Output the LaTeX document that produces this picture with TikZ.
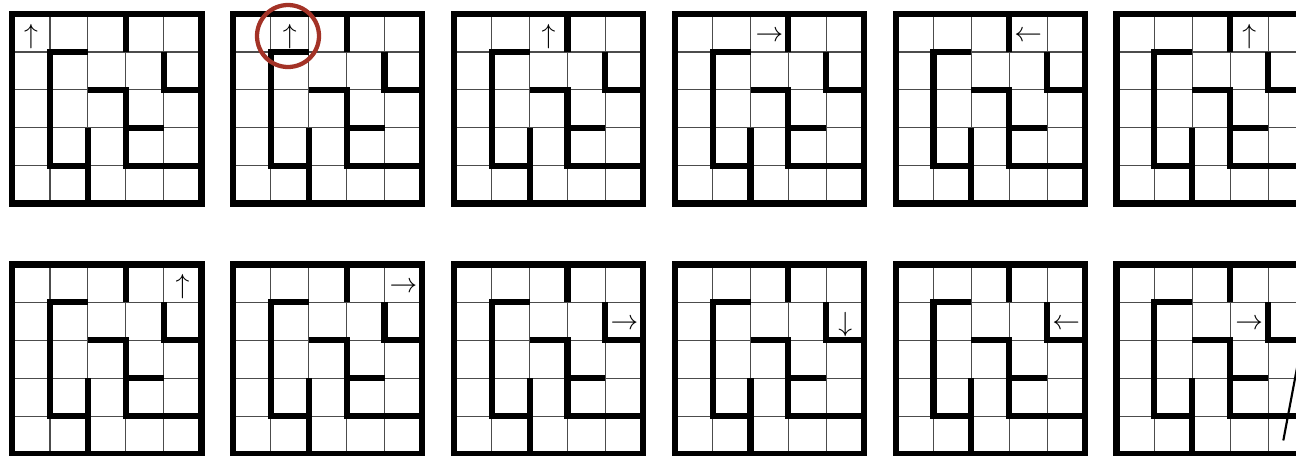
\documentclass[tikz,border=0pt]{standalone}
\definecolor{ringred}{RGB}{163,50,38}
\tikzset{
  gridline/.style={draw=black!70, line width=0.9pt},
  wall/.style={draw=black, line width=4.6pt, line join=miter},
  dirarrow/.style={inner sep=0pt, font=\fontsize{19.5}{20}\selectfont},
  markring/.style={draw=ringred, line width=3.2pt, circle, minimum size=46.5pt, inner sep=0pt},
  slash/.style={draw=black, line width=1.6pt},
}
% #1,#2: top-left corner of a maze in pixels
\newcommand\drawmaze[2]{%
  \begin{scope}[shift={(#1,#2)}, x=28.425pt, y=-28.425pt]
    \foreach \i in {1,2,3,4}{
      \draw[gridline] (\i,0) -- (\i,5);
      \draw[gridline] (0,\i) -- (5,\i);
    }
    \draw[wall] (0,0) rectangle (5,5);
    \draw[wall] (3,0) -- (3,1);
    \draw[wall] (2,1) -- (1,1) -- (1,4) -- (2,4);
    \draw[wall] (2,3) -- (2,5);
    \draw[wall] (2,2) -- (3,2) -- (3,4) -- (5,4);
    \draw[wall] (3,3) -- (4,3);
    \draw[wall] (4,1) -- (4,2) -- (5,2);
  \end{scope}}
% #1 name, #2,#3 maze corner, #4 column, #5 row, #6 glyph
\newcommand\cellarrow[6]{%
  \node[dirarrow] (#1) at ({#2+(#4+0.5)*37.9}, {#3+(#5+0.5)*37.9+3.5}) {$#6$};}
\begin{document}
\begin{tikzpicture}[x=0.75pt, y=-0.75pt]
  \useasboundingbox (0,0) rectangle (1296,455);
  \clip (0,0) rectangle (1296,455);
  \fill[white] (0,0) rectangle (1296,455);
  \foreach \mx in {12, 232.9, 453.8, 674.7, 895.6, 1116.5}{
    \drawmaze{\mx}{14}
    \drawmaze{\mx}{264.5}
  }
  % row 1
  \cellarrow{a1}{12}{14}{0}{0}{\uparrow}
  \cellarrow{a2}{232.9}{14}{1}{0}{\uparrow}
  \cellarrow{a3}{453.8}{14}{2}{0}{\uparrow}
  \cellarrow{a4}{674.7}{14}{2}{0}{\rightarrow}
  \cellarrow{a5}{895.6}{14}{3}{0}{\leftarrow}
  \cellarrow{a6}{1116.5}{14}{3}{0}{\uparrow}
  % row 2
  \cellarrow{a7}{12}{264.5}{4}{0}{\uparrow}
  \cellarrow{a8}{232.9}{264.5}{4}{0}{\rightarrow}
  \cellarrow{a9}{453.8}{264.5}{4}{1}{\rightarrow}
  \cellarrow{a10}{674.7}{264.5}{4}{1}{\downarrow}
  \cellarrow{a11}{895.6}{264.5}{4}{1}{\leftarrow}
  \cellarrow{a12}{1116.5}{264.5}{3}{1}{\rightarrow}
  % highlight ring
  \node[markring] (ring) at (288,36) {};
  % slash at the right edge
  \coordinate (s1) at (1283.3,440.5);
  \coordinate (s2) at (1300,352);
  \draw[slash] (s1) -- (s2);
\end{tikzpicture}
\end{document}
